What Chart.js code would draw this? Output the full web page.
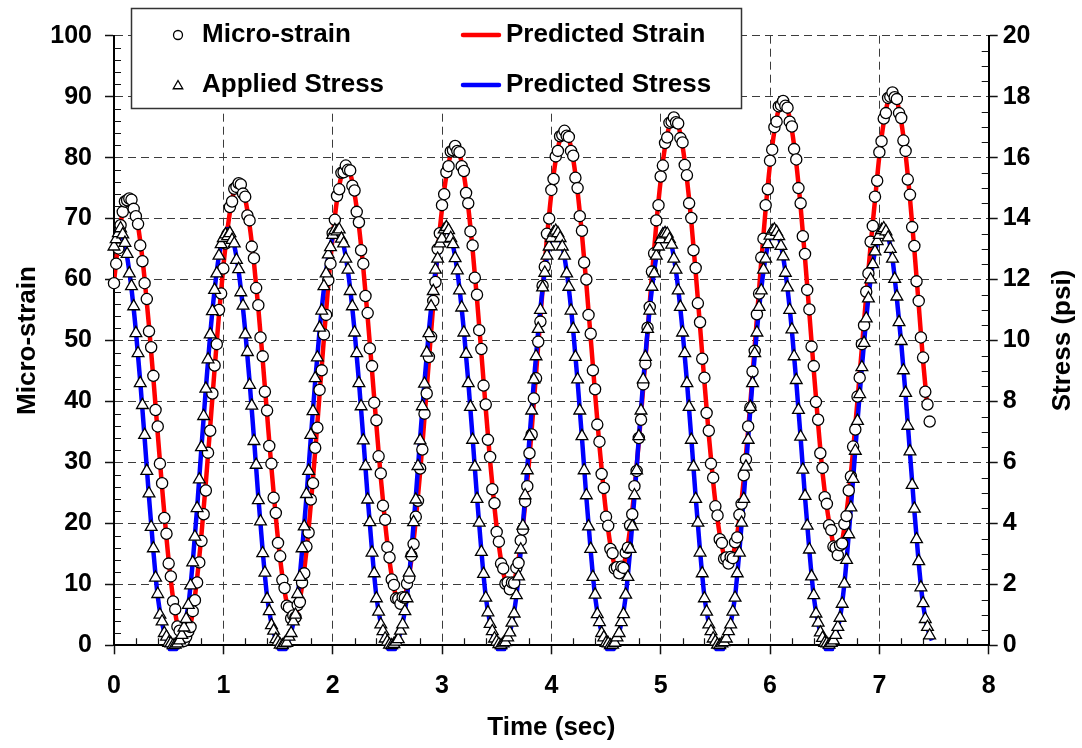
<!DOCTYPE html>
<html>
<head>
<meta charset="utf-8">
<title>Micro-strain and Applied Stress vs Time</title>
<script src="https://cdn.jsdelivr.net/npm/chart.js@4.4.1/dist/chart.umd.min.js"></script>
<style>
  html, body { margin: 0; padding: 0; background: #ffffff; }
  #box { position: relative; width: 1082px; height: 748px; }
</style>
</head>
<body>
<div id="box"><canvas id="chart" width="1082" height="748"></canvas></div>
<script>
// ---------------- data ----------------
const TIME_STEP_MEASURED = 0.02;   // s between plotted measurements
const TIME_STEP_PREDICTED = 0.04;  // s between model curve samples

const timeRange = [0, 8];
const strainRange = [0, 100];
const stressRange = [0, 20];

// measured micro-strain (circles), one value every 0.02 s starting at t = 0
const strainMeasured = [
  59.4, 62.6, 65.1, 68.9, 71.1, 72.8, 73.0, 73.3, 73.1, 71.6, 70.4, 69.1, 65.6, 63.0, 59.4, 56.8, 51.5, 48.9, 44.2, 38.6, 35.9, 29.8, 26.6, 20.9, 18.3, 13.4, 11.3, 7.2, 5.9, 3.1, 2.4, 0.9, 0.7, 1.4, 2.3, 3.0, 5.6, 7.4, 10.3, 13.6, 17.1, 21.5, 25.4, 31.6, 35.2, 41.3, 45.9, 49.4, 55.0, 57.7,
  61.8, 65.9, 67.5, 71.9, 72.8, 74.9, 75.2, 75.8, 75.6, 74.1, 73.6, 70.5, 69.7, 65.4, 63.5, 58.6, 55.8, 50.5, 47.4, 41.6, 38.5, 32.7, 29.8, 24.2, 21.7, 16.8, 14.6, 10.7, 9.4, 6.5, 6.2, 4.4, 4.9, 4.6, 6.6, 7.1, 10.3, 11.8, 16.2, 18.5, 23.9, 26.6, 32.4, 35.7, 41.9, 45.1, 51.0, 54.2, 59.9, 62.6,
  67.6, 69.8, 73.7, 74.8, 77.5, 77.6, 78.7, 78.0, 77.9, 75.4, 74.6, 71.1, 69.4, 64.8, 62.6, 57.3, 54.5, 48.7, 45.8, 39.8, 36.9, 31.0, 28.2, 22.9, 20.6, 16.1, 14.4, 10.8, 9.9, 7.7, 7.6, 6.8, 7.9, 7.8, 10.1, 11.1, 14.7, 16.6, 21.1, 23.7, 29.0, 32.1, 38.0, 41.3, 47.3, 50.6, 56.5, 59.6, 65.0, 67.6,
  72.2, 74.0, 77.6, 78.6, 81.0, 81.2, 81.9, 81.1, 80.9, 78.6, 77.8, 74.2, 72.5, 67.9, 65.6, 60.3, 57.5, 51.7, 48.6, 42.6, 39.5, 33.7, 30.9, 25.6, 23.3, 18.6, 17.0, 13.4, 12.6, 10.1, 10.3, 9.2, 10.3, 10.2, 12.7, 13.5, 17.2, 19.0, 23.6, 26.1, 31.5, 34.6, 40.5, 43.8, 49.8, 53.1, 59.0, 62.1, 67.5, 70.0,
  74.7, 76.5, 80.2, 81.1, 83.5, 83.7, 84.4, 83.6, 83.4, 81.1, 80.3, 76.7, 75.0, 70.4, 68.0, 62.8, 60.0, 54.2, 51.1, 45.1, 42.0, 36.2, 33.4, 28.1, 25.8, 21.1, 19.6, 15.8, 15.1, 12.6, 12.8, 11.8, 12.9, 12.7, 15.2, 16.0, 19.7, 21.5, 26.1, 28.6, 34.0, 37.0, 42.8, 46.2, 52.1, 55.5, 61.3, 64.3, 69.7, 72.2,
  76.9, 78.7, 82.4, 83.3, 85.7, 85.9, 86.6, 85.8, 85.6, 83.2, 82.5, 78.8, 77.1, 72.5, 70.1, 64.8, 61.9, 56.1, 53.0, 47.0, 43.9, 38.1, 35.2, 29.8, 27.5, 22.8, 21.3, 17.4, 16.8, 14.2, 14.4, 13.4, 14.5, 14.3, 16.9, 17.7, 21.4, 23.2, 27.9, 30.5, 35.9, 39.0, 44.9, 48.3, 54.3, 57.7, 63.6, 66.7, 72.2, 74.8,
  79.5, 81.3, 85.0, 85.9, 88.4, 88.6, 89.3, 88.5, 88.2, 85.9, 85.1, 81.4, 79.7, 75.0, 72.5, 67.1, 64.2, 58.3, 55.1, 49.0, 45.8, 39.9, 37.0, 31.5, 29.1, 24.3, 23.2, 19.7, 18.9, 16.2, 16.0, 14.8, 16.4, 16.7, 19.9, 21.2, 25.4, 27.7, 32.6, 35.4, 40.8, 43.9, 49.4, 52.5, 58.0, 61.0, 66.2, 68.8, 73.6, 76.2,
  80.9, 82.7, 86.4, 87.3, 89.8, 90.0, 90.7, 89.9, 89.6, 87.3, 86.5, 82.8, 81.1, 76.4, 73.9, 68.6, 65.5, 59.7, 56.5, 50.5, 47.2, 41.6, 39.5, 36.7
];

// measured applied stress in psi (triangles), one value every 0.02 s starting at t = 0
const stressMeasured = [
  13.08, 13.32, 13.52, 13.68, 13.48, 13.20, 12.84, 12.20, 11.78, 11.12, 10.24, 9.58, 8.60, 7.88, 6.90, 5.72, 4.98, 3.88, 3.18, 2.22, 1.68, 1.00, 0.78, 0.40, 0.28, 0.08, 0.06, 0.00, 0.02, 0.06, 0.16, 0.34, 0.58, 0.86, 1.32, 1.96, 2.72, 3.56, 4.50, 5.44, 6.50, 7.52, 8.42, 9.38, 10.20, 10.96, 11.66, 12.20, 12.78, 13.16,
  13.36, 13.48, 13.42, 13.52, 13.30, 13.18, 12.64, 12.34, 11.58, 11.14, 10.20, 9.62, 8.54, 7.86, 6.70, 5.92, 4.76, 4.06, 3.02, 2.38, 1.52, 1.12, 0.66, 0.48, 0.20, 0.12, 0.02, 0.00, 0.06, 0.08, 0.28, 0.40, 0.78, 1.00, 1.68, 2.24, 3.18, 3.90, 4.96, 5.72, 6.90, 7.68, 8.76, 9.44, 10.42, 10.98, 11.78, 12.20, 12.82, 13.06,
  13.46, 13.62, 13.58, 13.64, 13.34, 13.18, 12.68, 12.32, 11.62, 11.12, 10.26, 9.58, 8.60, 7.84, 6.72, 5.88, 4.78, 4.04, 3.04, 2.36, 1.54, 1.10, 0.68, 0.46, 0.22, 0.12, 0.02, 0.00, 0.04, 0.12, 0.20, 0.48, 0.68, 1.12, 1.54, 2.38, 3.02, 4.04, 4.78, 5.88, 6.72, 7.84, 8.58, 9.60, 10.24, 11.12, 11.62, 12.32, 12.68, 13.18,
  13.34, 13.64, 13.72, 13.62, 13.36, 13.16, 12.70, 12.30, 11.64, 11.08, 10.26, 9.56, 8.60, 7.82, 6.74, 5.86, 4.80, 4.02, 3.06, 2.34, 1.56, 1.08, 0.70, 0.46, 0.22, 0.12, 0.04, 0.00, 0.06, 0.10, 0.26, 0.42, 0.74, 1.04, 1.64, 2.26, 3.14, 3.92, 4.92, 5.74, 6.86, 7.70, 8.72, 9.48, 10.38, 11.00, 11.74, 12.22, 12.78, 13.08,
  13.36, 13.54, 13.60, 13.52, 13.36, 13.08, 12.78, 12.20, 11.76, 10.98, 10.38, 9.46, 8.72, 7.70, 6.86, 5.74, 4.92, 3.90, 3.16, 2.24, 1.66, 1.02, 0.76, 0.40, 0.26, 0.08, 0.06, 0.00, 0.02, 0.08, 0.26, 0.40, 0.76, 1.02, 1.66, 2.24, 3.16, 3.90, 4.92, 5.74, 6.86, 7.70, 8.72, 9.46, 10.38, 10.98, 11.76, 12.20, 12.78, 13.08,
  13.32, 13.48, 13.52, 13.50, 13.32, 13.14, 12.68, 12.32, 11.64, 11.10, 10.26, 9.58, 8.60, 7.82, 6.74, 5.86, 4.80, 4.02, 3.04, 2.36, 1.54, 1.10, 0.68, 0.46, 0.22, 0.12, 0.02, 0.00, 0.06, 0.10, 0.22, 0.46, 0.68, 1.10, 1.56, 2.36, 3.04, 4.02, 4.80, 5.86, 6.74, 7.82, 8.60, 9.58, 10.26, 11.10, 11.64, 12.32, 12.68, 13.16,
  13.44, 13.60, 13.64, 13.56, 13.42, 13.10, 12.76, 12.22, 11.74, 11.00, 10.36, 9.48, 8.70, 7.72, 6.84, 5.76, 4.90, 3.92, 3.14, 2.26, 1.64, 1.04, 0.74, 0.42, 0.24, 0.08, 0.06, 0.02, 0.08, 0.16, 0.34, 0.60, 0.90, 1.36, 2.02, 2.80, 3.64, 4.52, 5.46, 6.38, 7.36, 8.24, 9.12, 9.92, 10.72, 11.38, 12.00, 12.50, 12.92, 13.26,
  13.46, 13.62, 13.68, 13.58, 13.38, 13.00, 12.68, 12.02, 11.44, 10.60, 9.98, 9.02, 8.28, 7.20, 6.36, 5.26, 4.48, 3.48, 2.76, 1.90, 1.38, 0.86, 0.60, 0.32
];

// model curves, one value every 0.04 s starting at t = 0
const strainPredicted = [
  59.6, 66.2, 71.2, 73.2, 72.9, 70.7, 66.3, 60.1, 52.4, 43.8, 34.7, 25.8, 17.6, 10.6, 5.3, 1.9, 0.8, 2.0, 5.4, 11.0, 18.2, 26.7, 35.9, 45.3, 54.2,
  62.1, 68.5, 73.1, 75.4, 75.4, 73.2, 68.9, 62.8, 55.3, 46.8, 37.9, 29.1, 21.0, 14.1, 8.9, 5.6, 4.5, 6.0, 9.7, 15.5, 23.1, 31.8, 41.1, 50.4, 59.2,
  67.0, 73.1, 77.0, 78.5, 77.4, 74.1, 68.8, 61.9, 53.8, 45.0, 36.1, 27.5, 20.0, 13.8, 9.5, 7.3, 7.3, 9.6, 14.1, 20.5, 28.4, 37.4, 46.7, 55.9, 64.4,
  71.6, 77.1, 80.5, 81.7, 80.6, 77.2, 71.9, 64.9, 56.8, 47.9, 38.8, 30.2, 22.6, 16.4, 12.0, 9.8, 9.8, 12.1, 16.6, 23.0, 30.9, 39.9, 49.2, 58.4, 66.9,
  74.1, 79.6, 83.0, 84.2, 83.1, 79.7, 74.4, 67.4, 59.3, 50.4, 41.3, 32.7, 25.1, 18.9, 14.5, 12.3, 12.3, 14.6, 19.1, 25.5, 33.4, 42.2, 51.5, 60.7, 69.1,
  76.3, 81.8, 85.2, 86.4, 85.3, 81.9, 76.5, 69.5, 61.2, 52.3, 43.2, 34.5, 26.8, 20.6, 16.2, 13.9, 13.9, 16.3, 20.8, 27.3, 35.3, 44.3, 53.7, 63.0, 71.6,
  78.9, 84.4, 87.9, 89.1, 87.9, 84.5, 79.1, 71.9, 63.5, 54.4, 45.1, 36.3, 28.4, 22.6, 18.3, 15.5, 15.8, 19.3, 24.8, 32.0, 40.2, 48.8, 57.4, 65.6, 73.0,
  80.3, 85.8, 89.3, 90.5, 89.3, 85.9, 80.5, 73.3, 64.9, 55.8, 46.6, 38.9
];

const stressPredicted = [
  13.16, 13.66, 13.40, 12.74, 11.70, 10.32, 8.66, 6.80, 4.86, 3.10, 1.60, 0.72, 0.20, -0.16, -0.16, 0.12, 0.56, 1.32, 2.72, 4.50, 6.50, 8.42, 10.20, 11.66, 12.78,
  13.40, 13.66, 13.40, 12.74, 11.70, 10.32, 8.66, 6.80, 4.86, 3.10, 1.60, 0.72, 0.20, -0.16, -0.16, 0.20, 0.72, 1.60, 3.10, 4.86, 6.80, 8.66, 10.32, 11.70, 12.74,
  13.40, 13.66, 13.40, 12.74, 11.70, 10.32, 8.66, 6.80, 4.86, 3.10, 1.60, 0.72, 0.20, -0.16, -0.16, 0.20, 0.72, 1.60, 3.10, 4.86, 6.80, 8.66, 10.32, 11.70, 12.74,
  13.40, 13.66, 13.40, 12.74, 11.70, 10.32, 8.66, 6.80, 4.86, 3.10, 1.60, 0.72, 0.20, -0.16, -0.16, 0.20, 0.72, 1.60, 3.10, 4.86, 6.80, 8.66, 10.32, 11.70, 12.74,
  13.40, 13.66, 13.40, 12.74, 11.70, 10.32, 8.66, 6.80, 4.86, 3.10, 1.60, 0.72, 0.20, -0.16, -0.16, 0.20, 0.72, 1.60, 3.10, 4.86, 6.80, 8.66, 10.32, 11.70, 12.74,
  13.40, 13.66, 13.40, 12.74, 11.70, 10.32, 8.66, 6.80, 4.86, 3.10, 1.60, 0.72, 0.20, -0.16, -0.16, 0.20, 0.72, 1.60, 3.10, 4.86, 6.80, 8.66, 10.32, 11.70, 12.74,
  13.40, 13.66, 13.40, 12.74, 11.70, 10.32, 8.66, 6.80, 4.86, 3.10, 1.60, 0.72, 0.20, -0.16, -0.16, 0.34, 0.90, 2.02, 3.64, 5.46, 7.36, 9.12, 10.72, 12.00, 12.92,
  13.40, 13.66, 13.40, 12.68, 11.38, 9.92, 8.22, 6.30, 4.42, 2.70, 1.34, 0.58, 0.16
];

// ---------------- chart ----------------
const FONT_FAMILY = '"Liberation Sans", Arial, Helvetica, sans-serif';
const toPoints = (values, step) => values.map((v, i) => ({ x: Math.round(i * step * 1000) / 1000, y: v }));

const tickFont = { family: FONT_FAMILY, size: 25, weight: 'bold' };
const titleFont = { family: FONT_FAMILY, size: 26, weight: 'bold' };
const GRID_COLOR = '#3c3c3c';
const GRID_DASH = [8, 5];

const decorations = {
  id: 'decorations',
  beforeDatasetsDraw(chart) {
    const { ctx, chartArea: a, scales } = chart;
    ctx.save();
    ctx.strokeStyle = '#111';
    ctx.lineWidth = 1.2;
    ctx.beginPath();
    // minor ticks on time axis: every 0.2 s, pointing inward
    for (let k = 1; k < 40; k++) {
      if (k % 5 === 0) continue;
      const x = Math.round(scales.x.getPixelForValue(k * 0.2)) + 0.5;
      ctx.moveTo(x, a.bottom);
      ctx.lineTo(x, a.bottom - 7);
    }
    // minor ticks on strain axis: every 2 units
    for (let k = 1; k < 50; k++) {
      if (k % 5 === 0) continue;
      const y = Math.round(scales.y.getPixelForValue(k * 2)) + 0.5;
      ctx.moveTo(a.left, y);
      ctx.lineTo(a.left + 7, y);
    }
    // minor ticks on stress axis: every 0.5 psi
    for (let k = 1; k < 40; k++) {
      if (k % 4 === 0) continue;
      const y = Math.round(scales.y2.getPixelForValue(k * 0.5)) + 0.5;
      ctx.moveTo(a.right, y);
      ctx.lineTo(a.right - 7, y);
    }
    ctx.stroke();
    ctx.restore();
  },
  afterDatasetsDraw(chart) {
    const { ctx, chartArea: a } = chart;
    ctx.save();
    // right axis title, rotated like the left one
    ctx.fillStyle = '#000';
    ctx.font = 'bold 26px ' + FONT_FAMILY;
    ctx.textAlign = 'center';
    ctx.textBaseline = 'middle';
    ctx.translate(1063, (a.top + a.bottom) / 2);
    ctx.rotate(-Math.PI / 2);
    ctx.fillText('Stress (psi)', 0, 0);
    ctx.restore();

    // legend box
    ctx.save();
    ctx.fillStyle = '#fff';
    ctx.fillRect(131.5, 8.5, 610, 100);
    ctx.strokeStyle = '#333';
    ctx.lineWidth = 1.5;
    ctx.strokeRect(131.5, 8.5, 610, 100);

    // circle marker
    ctx.lineWidth = 1.3;
    ctx.strokeStyle = '#000';
    ctx.fillStyle = '#fff';
    ctx.beginPath();
    ctx.arc(178, 35, 4.5, 0, Math.PI * 2);
    ctx.fill(); ctx.stroke();
    // triangle marker
    const r = 5.5, cx = 178, cy = 86;
    ctx.beginPath();
    for (let k = 0; k < 3; k++) {
      const ang = k * 2 * Math.PI / 3;
      const px = cx + Math.sin(ang) * r, py = cy - Math.cos(ang) * r;
      if (k === 0) ctx.moveTo(px, py); else ctx.lineTo(px, py);
    }
    ctx.closePath();
    ctx.fill(); ctx.stroke();
    // line samples
    ctx.lineCap = 'round';
    ctx.lineWidth = 4.5;
    ctx.strokeStyle = '#ff0000';
    ctx.beginPath(); ctx.moveTo(463, 35); ctx.lineTo(499, 35); ctx.stroke();
    ctx.strokeStyle = '#0000ff';
    ctx.beginPath(); ctx.moveTo(463, 85); ctx.lineTo(499, 85); ctx.stroke();
    // texts
    ctx.fillStyle = '#000';
    ctx.font = 'bold 26px ' + FONT_FAMILY;
    ctx.textAlign = 'left';
    ctx.textBaseline = 'middle';
    ctx.fillText('Micro-strain', 202, 35);
    ctx.fillText('Applied Stress', 202, 85);
    ctx.fillText('Predicted Strain', 506, 35);
    ctx.fillText('Predicted Stress', 506, 85);
    ctx.restore();
  }
};

new Chart(document.getElementById('chart'), {
  type: 'line',
  data: {
    datasets: [
      {
        label: 'Applied Stress',
        data: toPoints(stressMeasured, TIME_STEP_MEASURED),
        yAxisID: 'y2',
        showLine: false,
        pointStyle: 'triangle',
        pointRadius: 6.8,
        pointBackgroundColor: '#ffffff',
        pointBorderColor: '#000000',
        pointBorderWidth: 1.3,
        order: 1,
        clip: 8
      },
      {
        label: 'Micro-strain',
        data: toPoints(strainMeasured, TIME_STEP_MEASURED),
        yAxisID: 'y',
        showLine: false,
        pointStyle: 'circle',
        pointRadius: 5.6,
        pointBackgroundColor: '#ffffff',
        pointBorderColor: '#000000',
        pointBorderWidth: 1.3,
        order: 2,
        clip: 8
      },
      {
        label: 'Predicted Stress',
        data: toPoints(stressPredicted, TIME_STEP_PREDICTED),
        yAxisID: 'y2',
        borderColor: '#0000ff',
        borderWidth: 4.5,
        pointRadius: 0,
        fill: false,
        cubicInterpolationMode: 'monotone',
        order: 3,
        clip: { left: 0, top: 0, right: 0, bottom: 6 }
      },
      {
        label: 'Predicted Strain',
        data: toPoints(strainPredicted, TIME_STEP_PREDICTED),
        yAxisID: 'y',
        borderColor: '#ff0000',
        borderWidth: 4.5,
        pointRadius: 0,
        fill: false,
        cubicInterpolationMode: 'monotone',
        order: 4,
        clip: { left: 0, top: 0, right: 0, bottom: 6 }
      }
    ]
  },
  options: {
    responsive: false,
    animation: false,
    devicePixelRatio: 1,
    events: [],
    layout: { padding: { top: 35.7, left: 0, right: 0, bottom: 0 } },
    plugins: { legend: { display: false }, tooltip: { enabled: false } },
    scales: {
      x: {
        type: 'linear',
        position: 'bottom',
        min: timeRange[0],
        max: timeRange[1],
        afterFit: s => { s.height = 102.7; },
        ticks: { stepSize: 1, color: '#000', font: tickFont, padding: 17, maxRotation: 0, autoSkip: false },
        grid: { color: GRID_COLOR, lineWidth: 1, drawTicks: true, tickLength: 9, tickColor: '#111', tickWidth: 1.5 },
        border: { display: true, color: '#000', width: 2, dash: GRID_DASH },
        title: { display: true, text: 'Time (sec)', color: '#000', font: titleFont, padding: { top: 0, bottom: 5 } }
      },
      y: {
        type: 'linear',
        position: 'left',
        min: strainRange[0],
        max: strainRange[1],
        afterFit: s => { s.width = 114; },
        ticks: { stepSize: 10, color: '#000', font: tickFont, padding: 13 },
        grid: { color: GRID_COLOR, lineWidth: 1, drawTicks: true, tickLength: 9, tickColor: '#111', tickWidth: 1.5 },
        border: { display: true, color: '#000', width: 2, dash: GRID_DASH },
        title: { display: true, text: 'Micro-strain', color: '#000', font: titleFont, padding: { top: 12, bottom: 0 } }
      },
      y2: {
        type: 'linear',
        position: 'right',
        min: stressRange[0],
        max: stressRange[1],
        afterFit: s => { s.width = 93.3; },
        ticks: { stepSize: 2, color: '#000', font: tickFont, padding: 5 },
        grid: { drawOnChartArea: false, drawTicks: true, tickLength: 9, tickColor: '#111', tickWidth: 1.5 },
        border: { display: true, color: '#000', width: 2 },
        title: { display: false }
      }
    }
  },
  plugins: [decorations]
});
</script>
</body>
</html>
